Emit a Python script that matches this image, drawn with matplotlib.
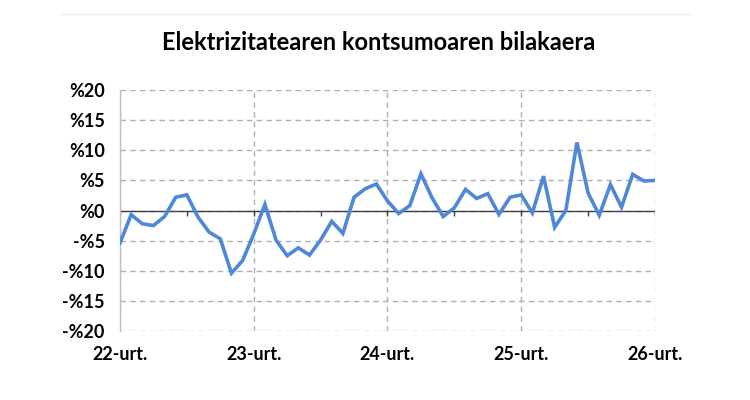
import matplotlib
matplotlib.use("Agg")
import matplotlib.pyplot as plt
import numpy as np

# Monthly year-on-year change in electricity consumption (%), Jan 2022 - Jan 2026
values = [-5.4, -0.7, -2.2, -2.5, -1.0, 2.2, 2.6, -1.1, -3.6, -4.7, -10.4, -8.3,
          -3.9, 1.0, -4.9, -7.5, -6.2, -7.4, -4.9, -1.8, -3.8, 2.2, 3.6, 4.4,
          1.6, -0.5, 0.8, 6.1, 2.1, -1.0, 0.45, 3.5, 2.0, 2.8, -0.65, 2.2,
          2.6, -0.4, 5.7, -2.8, 0.0, 11.3, 2.9, -0.8, 4.3, 0.55, 6.0, 4.9,
          5.0]
xtick_labels = ["22-urt.", "23-urt.", "24-urt.", "25-urt.", "26-urt."]
ytick_values = [-20, -15, -10, -5, 0, 5, 10, 15, 20]
title = "Elektrizitatearen kontsumoaren bilakaera"

plt.rcParams['font.family'] = ['Lato', 'DejaVu Sans']

fig = plt.figure(figsize=(7.5, 4), dpi=100)
ax = fig.add_axes([0.16, 0.1725, 0.7133, 0.6025])

months = np.arange(len(values))
ax.plot(months, values, color='#4F88D6', linewidth=2.6, solid_joinstyle='miter', zorder=3)

ax.set_xlim(0, len(values) - 1)
ax.set_ylim(-20, 20)

ax.set_yticks(ytick_values)
ax.set_yticklabels([f"-%{-v}" if v < 0 else f"%{v}" for v in ytick_values],
                   fontsize=13, fontweight='bold')
ax.set_xticks(months[::12])
ax.set_xticklabels(xtick_labels, fontsize=13, fontweight='bold')
ax.tick_params(axis='y', length=0, pad=11)
ax.tick_params(axis='x', length=0, pad=11)

ax.grid(True, color='#b0b0b0', linestyle=(0, (4, 3)), linewidth=1)
for s in ['top', 'right', 'bottom']:
    ax.spines[s].set_visible(False)
ax.spines['left'].set_color('#bfbfbf')
ax.spines['left'].set_linewidth(1)

# zero axis with half-year tick marks
ax.axhline(0, color='#404040', linewidth=1, zorder=2)
ax.vlines(months[::6], -0.9, 0, color='#404040', linewidth=1, zorder=2)

fig.text(0.505, 0.895, title, ha='center', va='center', fontsize=17, fontweight='bold')
fig.add_artist(plt.Line2D([0.08, 0.92], [0.965, 0.965], color='#eeeeee', linewidth=1))

fig.savefig("out.png", dpi=100)
